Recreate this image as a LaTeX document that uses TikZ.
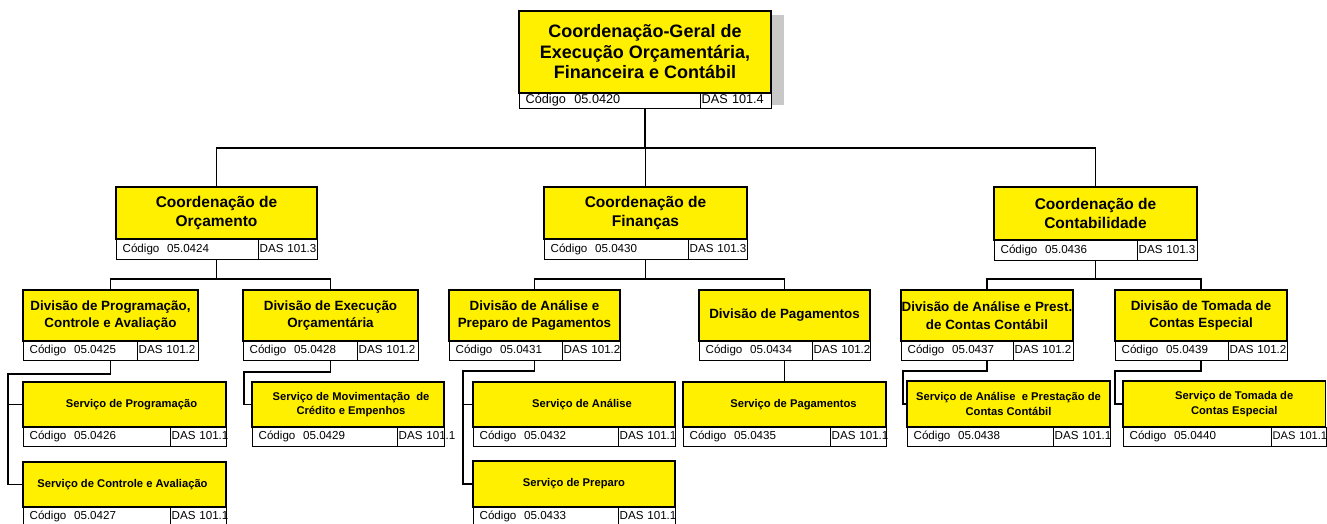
\documentclass[tikz,border=0pt]{standalone}
\usepackage{fontspec}
\setmainfont{Liberation Sans}
\definecolor{boxyellow}{RGB}{255,240,0}
\definecolor{shadowgray}{RGB}{200,200,200}
\tikzset{
  ybox/.style={draw, fill=boxyellow, line width=1.3pt, inner sep=0pt},
  cell/.style={draw, fill=white, line width=1.3pt, inner ysep=0pt, align=left, text height=0.72em, text depth=0.22em},
  conn/.style={line width=1.4pt},
  toptitle/.style={font=\bfseries\fontsize{18}{20.5}\selectfont, align=center, inner sep=0pt},
  cotitle/.style={font=\bfseries\fontsize{15.5}{19}\selectfont, align=center, inner sep=0pt},
  dvtitle/.style={font=\bfseries\fontsize{13.4}{17.5}\selectfont, align=center, inner sep=0pt},
  svtitle/.style={font=\bfseries\fontsize{11.2}{14.5}\selectfont, align=center, inner sep=0pt},
  codefont/.style={font=\fontsize{11.6}{13}\selectfont},
  topcode/.style={font=\fontsize{12.7}{14}\selectfont},
}
% name x1 y1 x2 ymid titlestyle title
\newcommand\orgbox[7]{%
  \node[ybox, minimum width={#4-#2}, minimum height={#5-#3}] (#1) at ({(#2+#4)/2},{(#3+#5)/2}) {};
  \node[#6] (#1-t) at (#1.center) {#7};
}
% name x1 ymid x2 y2 xdiv style code das
\newcommand\orgcells[9]{%
  \pgfmathsetmacro\twA{#6-#2-12}%
  \pgfmathsetmacro\twB{#4-#6-2}%
  \pgfmathsetmacro\chh{#5-#3}%
  \node[cell, #7, text width=\twA pt, inner xsep=6pt, minimum height=\chh pt, anchor=north west] (#1-c) at (#2,#3) {#8};
  \node[cell, #7, text width=\twB pt, inner xsep=1pt, minimum height=\chh pt, anchor=north west] (#1-d) at (#6,#3) {#9};
}
\begin{document}
\begin{tikzpicture}[x=1pt, y=-1pt]
\fill[white] (0,0) rectangle (1327,523);
\useasboundingbox (0,0) rectangle (1327,523);

% shadow of the top box
\fill[shadowgray] (530,15) rectangle (784,105);

% top
\orgbox{top}{519}{11}{771}{93}{toptitle}{Coordenação-Geral de\\Execução Orçamentária,\\Financeira e Contábil}
\orgcells{top}{519}{93}{771}{108}{700}{topcode}{Código~~05.0420}{DAS~101.4}

% coordinations
\orgbox{co}{116}{187}{317}{239}{cotitle}{Coordenação de\\Orçamento}
\orgcells{co}{116}{239}{317}{259}{258}{codefont}{Código~~05.0424}{DAS~101.3}
\orgbox{cf}{544}{187}{747}{239}{cotitle}{Coordenação de\\Finanças}
\orgcells{cf}{544}{239}{747}{259}{688}{codefont}{Código~~05.0430}{DAS~101.3}
\orgbox{ct}{994}{187}{1197}{240}{cotitle}{Coordenação de\\Contabilidade}
\orgcells{ct}{994}{240}{1197}{260}{1137}{codefont}{Código~~05.0436}{DAS~101.3}

% divisions
\orgbox{dp}{23}{290}{198}{341}{dvtitle}{Divisão de Programação,\\Controle e Avaliação}
\orgcells{dp}{23}{341}{198}{360}{137}{codefont}{Código~~05.0425}{DAS~101.2}
\orgbox{de}{243}{290}{418}{341}{dvtitle}{Divisão de Execução\\Orçamentária}
\orgcells{de}{243}{341}{418}{360}{357}{codefont}{Código~~05.0428}{DAS~101.2}
\orgbox{da}{449}{290}{620}{341}{dvtitle}{Divisão de Análise e\\Preparo de Pagamentos}
\orgcells{da}{449}{341}{620}{360}{562}{codefont}{Código~~05.0431}{DAS~101.2}
\orgbox{dg}{699}{290}{870}{341}{dvtitle}{Divisão de Pagamentos}
\orgcells{dg}{699}{341}{870}{360}{812}{codefont}{Código~~05.0434}{DAS~101.2}
\orgbox{dc}{901}{290}{1073}{341}{dvtitle}{Divisão de Análise e Prest.\\de Contas Contábil}
\orgcells{dc}{901}{341}{1073}{360}{1013}{codefont}{Código~~05.0437}{DAS~101.2}
\orgbox{dt}{1115}{290}{1287}{341}{dvtitle}{Divisão de Tomada de\\Contas Especial}
\orgcells{dt}{1115}{341}{1287}{360}{1228}{codefont}{Código~~05.0439}{DAS~101.2}

% services
\orgbox{sp}{23}{382}{226}{427}{svtitle, xshift=7pt}{Serviço de Programação}
\orgcells{sp}{23}{427}{226}{446}{170}{codefont}{Código~~05.0426}{DAS~101.1}
\orgbox{sv}{23}{462}{226}{507}{svtitle, xshift=-2pt}{Serviço de Controle e Avaliação}
\orgcells{sv}{23}{507}{226}{526}{170}{codefont}{Código~~05.0427}{DAS~101.1}
\orgbox{sm}{252}{382}{444}{427}{svtitle, xshift=3pt}{Serviço de Movimentação\ \ de\\Crédito e Empenhos}
\orgcells{sm}{252}{427}{444}{446}{397}{codefont}{Código~~05.0429}{DAS~101.1}
\orgbox{sa}{473}{382}{675}{427}{svtitle, xshift=8pt}{Serviço de Análise}
\orgcells{sa}{473}{427}{675}{446}{618}{codefont}{Código~~05.0432}{DAS~101.1}
\orgbox{sr}{473}{461}{675}{507}{svtitle}{Serviço de Preparo}
\orgcells{sr}{473}{507}{675}{526}{618}{codefont}{Código~~05.0433}{DAS~101.1}
\orgbox{sg}{683}{382}{886}{427}{svtitle, xshift=9pt}{Serviço de Pagamentos}
\orgcells{sg}{683}{427}{886}{446}{830}{codefont}{Código~~05.0435}{DAS~101.1}
\orgbox{sc}{907}{381}{1110}{427}{svtitle}{Serviço de Análise\ \ e Prestação de\\Contas Contábil}
\orgcells{sc}{907}{427}{1110}{446}{1053}{codefont}{Código~~05.0438}{DAS~101.1}
\orgbox{st}{1123}{381}{1325.5}{427}{svtitle, xshift=10pt}{Serviço de Tomada de\\Contas Especial}
\orgcells{st}{1123}{427}{1325.5}{446}{1271}{codefont}{Código~~05.0440}{\fontsize{11.1}{13}\selectfont DAS~101.1}

% connectors level 1
\coordinate (bus0) at (0,148);
\draw[conn] (top.south |- top-c.south) -- (top.south |- bus0);
\draw[conn] (co.north) |- (ct.north |- bus0) -- (ct.north);
\draw[conn] (cf.north) -- (cf.north |- bus0);

% connectors level 2
\coordinate (bus1) at (0,279);
\draw[conn] (co.south |- co-c.south) -- (co.south |- bus1);
\draw[conn] (dp.north) |- (de.north |- bus1) -- (de.north);
\draw[conn] (cf.south |- cf-c.south) -- (cf.south |- bus1);
\draw[conn] (da.north) |- (dg.north |- bus1) -- (dg.north);
\draw[conn] (ct.south |- ct-c.south) -- (ct.south |- bus1);
\draw[conn] (dc.north) |- (dt.north |- bus1) -- (dt.north);

% connectors level 3
\coordinate (k1) at (8,374);
\draw[conn] (dp.south |- dp-c.south) |- (k1) |- (sv.west);
\draw[conn] (k1 |- sp.west) -- (sp.west);
\coordinate (k2) at (244,372);
\draw[conn] (de.south |- de-c.south) |- (k2) |- (sm.west);
\coordinate (k3) at (463,371);
\draw[conn] (da.south |- da-c.south) |- (k3) |- (sr.west);
\draw[conn] (k3 |- sa.west) -- (sa.west);
\draw[conn] (dg.south |- dg-c.south) -- (sg.north);
\coordinate (k4) at (903,371);
\draw[conn] (dc.south |- dc-c.south) |- (k4) |- (sc.west);
\coordinate (k5) at (1115,371);
\draw[conn] (dt.south |- dt-c.south) |- (k5) |- (st.west);
\end{tikzpicture}
\end{document}
